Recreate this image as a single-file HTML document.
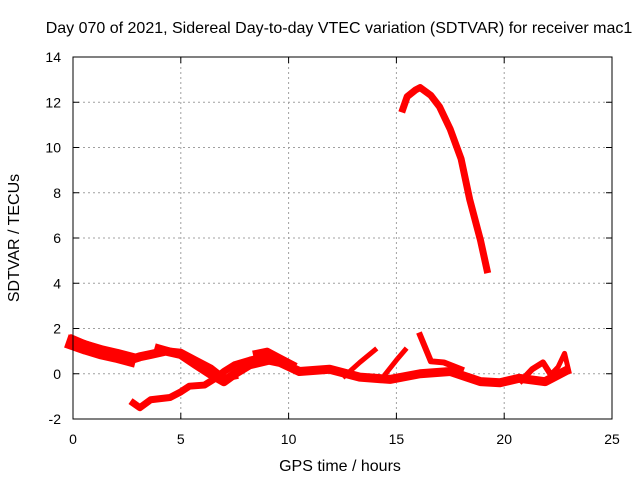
<!DOCTYPE html>
<html><head><meta charset="utf-8"><style>
body{margin:0;background:#fff}
svg{display:block;font-family:"Liberation Sans",sans-serif}
</style></head><body>
<svg id="chart" width="640" height="480">
<text x="339" y="33" font-size="16" text-anchor="middle">Day 070 of 2021, Sidereal Day-to-day VTEC variation (SDTVAR) for receiver mac1</text>
<text x="340" y="471" font-size="16" text-anchor="middle">GPS time / hours</text>
<text transform="translate(19,238) rotate(-90)" font-size="16" text-anchor="middle">SDTVAR / TECUs</text>
<g id="grid"></g><g id="marks"></g><g id="axes"></g>
</svg>
<script>
const xTicks=[0,5,10,15,20,25];
const yTicks=[-2,0,2,4,6,8,10,12,14];
const seriesA_h=[0,0.5,1.25,2,2.6,3.1,3.6,4.3,5,5.7,6.35,7,7.5,8.2,9.1,9.6,10.5,11.9,13.3,14.7,16.1,17.5,18.9,19.8,20.7,21.9,22.8];
const seriesA_v=[1.5,1.3,1.05,0.85,0.6,0.75,0.85,1.0,0.85,0.4,0.0,-0.35,0.0,0.4,0.6,0.5,0.1,0.2,-0.15,-0.25,0.0,0.1,-0.35,-0.4,-0.2,-0.35,0.1];
const thick_h=[0,0.6,1.3,2.0,2.6];
const thick_v=[1.35,1.15,0.95,0.8,0.65];
const seriesB_h=[2.8,3.1,3.6,4.5,5,5.4,6.1,6.6,7,7.5,8.2,9.0,9.6];
const seriesB_v=[-1.3,-1.5,-1.15,-1.05,-0.8,-0.55,-0.5,-0.2,0.1,0.4,0.6,0.8,0.6];
const seriesC_h=[3.95,4.5,5.0,5.7,6.4,7.0,7.5];
const seriesC_v=[1.15,1.0,0.95,0.6,0.25,-0.2,-0.1];
const spike1_h=[12.6,13.3,14.0];const spike1_v=[-0.1,0.5,1.05];
const spike2_h=[14.5,15.0,15.4];const spike2_v=[0.0,0.6,1.05];
const spike3_h=[16.1,16.6,17.2,18.0];const spike3_v=[1.7,0.55,0.5,0.2];
const spike4_h=[20.8,21.3,21.8,22.2];const spike4_v=[-0.3,0.2,0.5,-0.1];
const spike5_h=[22.2,22.5,22.8,23.0];const spike5_v=[0.0,0.3,0.9,0.1];
const spike6_h=[8.5,9.0,9.6,10.2];const spike6_v=[0.9,1.0,0.7,0.4];
const high_h=[15.3,15.5,15.9,16.1,16.6,17.0,17.5,18.0,18.4,18.9,19.2];
const high_v=[11.7,12.25,12.55,12.65,12.3,11.8,10.8,9.5,7.7,5.9,4.6];
const x0=73,x1=612,y0=419,y1=57;
const X=h=>x0+(h-0)/(25-0)*(x1-x0);
const Y=v=>y0-(v+2)/(16)*(y0-y1);
const ns="http://www.w3.org/2000/svg";
function mk(t,a,p){const e=document.createElementNS(ns,t);for(const k in a)e.setAttribute(k,a[k]);p.appendChild(e);return e;}
const grid=document.getElementById('grid'),axes=document.getElementById('axes'),marks=document.getElementById('marks');
xTicks.forEach(t=>{
 if(t>0&&t<25){const g=mk('line',{x1:X(t),x2:X(t),y1:y1,y2:y0,stroke:'#a0a0a0','stroke-dasharray':'2,3'},grid);
 }
 mk('line',{x1:X(t),x2:X(t),y1:y0,y2:y0-6,stroke:'#000'},axes);
 mk('line',{x1:X(t),x2:X(t),y1:y1,y2:y1+6,stroke:'#000'},axes);
 const l=mk('text',{x:X(t),y:y0+25,'font-size':14,'text-anchor':'middle'},axes);l.textContent=t;
 
});
yTicks.forEach(t=>{
 if(t>-2&&t<14){const g=mk('line',{x1:x0,x2:x1,y1:Y(t),y2:Y(t),stroke:'#a0a0a0','stroke-dasharray':'2,3'},grid);
 }
 mk('line',{x1:x0,x2:x0+6,y1:Y(t),y2:Y(t),stroke:'#000'},axes);
 mk('line',{x1:x1,x2:x1-6,y1:Y(t),y2:Y(t),stroke:'#000'},axes);
 const l=mk('text',{x:x0-12,y:Y(t)+5,'font-size':14,'text-anchor':'end'},axes);l.textContent=t;
 
});
const f=mk('rect',{x:x0,y:y1,width:x1-x0,height:y0-y1,fill:'none',stroke:'#000'},axes);

const all=[[seriesA_h,seriesA_v,9,'band-main'],[thick_h,thick_v,14,'band-thick-start'],[seriesB_h,seriesB_v,7,'band-rising'],[seriesC_h,seriesC_v,7,'band-upper'],
[spike1_h,spike1_v,5,'spike-14h'],[spike2_h,spike2_v,5,'spike-15h'],[spike3_h,spike3_v,6,'spike-16h'],[spike4_h,spike4_v,6,'spike-21h'],
[spike5_h,spike5_v,5,'spike-23h'],[spike6_h,spike6_v,7,'bump-9h'],[high_h,high_v,7,'high-arc']];
all.forEach(s=>{
 const pts=s[0].map((h,i)=>X(h)+','+Y(s[1][i])).join(' ');
 const p=mk('polyline',{points:pts,fill:'none',stroke:'#ff0000','stroke-width':s[2],'stroke-linejoin':'round','stroke-linecap':'square'},marks);
 
});
</script>
</body></html>
